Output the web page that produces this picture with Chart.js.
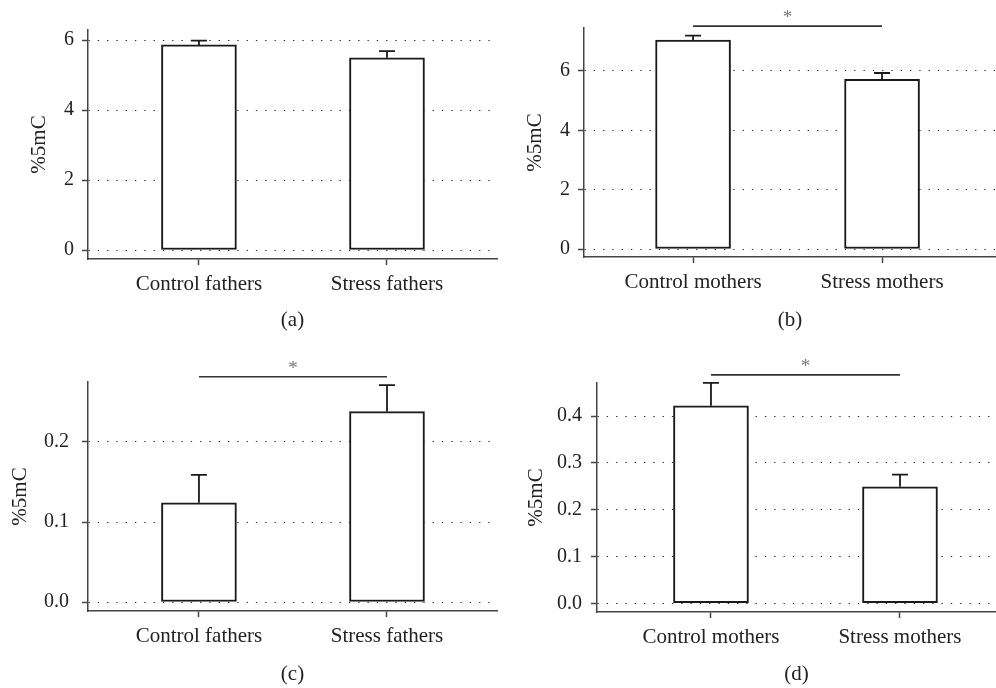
<!DOCTYPE html>
<html>
<head>
<meta charset="utf-8">
<script src="https://cdn.jsdelivr.net/npm/chart.js@4.4.1/dist/chart.umd.min.js"></script>
<style>
  html, body { margin: 0; padding: 0; background: #fff; }
  #wrap { position: relative; width: 996px; height: 688px; }
  .panel { position: absolute; width: 498px; height: 344px; }
</style>
</head>
<body>
<div id="wrap">
  <div class="panel" style="left:0;top:0"><canvas id="chartA"></canvas></div>
  <div class="panel" style="left:498px;top:0"><canvas id="chartB"></canvas></div>
  <div class="panel" style="left:0;top:344px"><canvas id="chartC"></canvas></div>
  <div class="panel" style="left:498px;top:344px"><canvas id="chartD"></canvas></div>
</div>
<script>
// categories
const fatherLabels = ["Control fathers", "Stress fathers"];
const motherLabels = ["Control mothers", "Stress mothers"];

// (a)
const aMeans = [5.86, 5.49];
const aErrors = [0.12, 0.19];
const aTicks = [0, 2, 4, 6];

// (b)
const bMeans = [7.04, 5.72];
const bErrors = [0.15, 0.21];
const bTicks = [0, 2, 4, 6];
const bSig = 7.51;

// (c)
const cMeans = [0.124, 0.238];
const cErrors = [0.035, 0.033];
const cTicks = [0.0, 0.1, 0.2];
const cSig = 0.2816;

// (d)
const dMeans = [0.422, 0.249];
const dErrors = [0.049, 0.026];
const dTicks = [0.0, 0.1, 0.2, 0.3, 0.4];
const dSig = 0.488;

Chart.defaults.font.family = "'Liberation Serif', 'Times New Roman', serif";
Chart.defaults.color = "#222";

// error bars + significance bracket, placed with the chart's scales
const errorBarPlugin = {
  id: "errorBars",
  afterDraw(chart, args, opts) {
    const ctx = chart.ctx;
    const xs = chart.scales.x;
    const ys = chart.scales.y;
    const means = chart.data.datasets[0].data.map((d) => d.y);
    ctx.save();
    ctx.strokeStyle = "#1a1a1a";
    ctx.lineWidth = 1.8;
    opts.errors.forEach((e, i) => {
      const px = xs.getPixelForValue(i);
      const top = ys.getPixelForValue(means[i] + e);
      const base = ys.getPixelForValue(means[i]);
      ctx.beginPath();
      ctx.moveTo(px, base);
      ctx.lineTo(px, top);
      ctx.moveTo(px - 8, top);
      ctx.lineTo(px + 8, top);
      ctx.stroke();
    });
    if (opts.sig != null) {
      const sy = ys.getPixelForValue(opts.sig);
      const x0 = xs.getPixelForValue(0);
      const x1 = xs.getPixelForValue(1);
      ctx.strokeStyle = "#333";
      ctx.lineWidth = 1.6;
      ctx.beginPath();
      ctx.moveTo(x0, sy);
      ctx.lineTo(x1, sy);
      ctx.stroke();
      ctx.fillStyle = "#777";
      ctx.font = "19px 'Liberation Serif'";
      ctx.textAlign = "center";
      ctx.textBaseline = "alphabetic";
      ctx.fillText("*", (x0 + x1) / 2, sy - 3);
    }
    ctx.restore();
  },
};

function makePanel(id, p) {
  return new Chart(document.getElementById(id).getContext("2d"), {
    type: "bar",
    data: {
      datasets: [
        {
          data: p.means.map((v, i) => ({ x: i, y: v })),
          backgroundColor: "#fff",
          borderColor: "#1a1a1a",
          borderWidth: 2,
          borderSkipped: false,
          barThickness: 75,
        },
      ],
    },
    options: {
      responsive: true,
      maintainAspectRatio: false,
      animation: false,
      layout: { padding: { left: 0, top: p.padTop, right: p.padRight, bottom: 0 } },
      plugins: {
        legend: { display: false },
        tooltip: { enabled: false },
        errorBars: { errors: p.errors, sig: p.sig },
      },
      scales: {
        x: {
          type: "linear",
          offset: false,
          min: p.xMin,
          max: p.xMax,
          afterBuildTicks: (s) => { s.ticks = p.labels.map((_, i) => ({ value: i })); },
          afterFit: (s) => { s.height = p.xHeight; },
          ticks: {
            callback: (v) => p.labels[v],
            padding: 7,
            font: { size: 21 },
            color: "#222",
            maxRotation: 0,
            autoSkip: false,
          },
          grid: { offset: false, drawOnChartArea: false, tickLength: 6, tickColor: "#444", tickWidth: 1.5 },
          border: { color: "#444", width: 1.5 },
          title: {
            display: true,
            text: p.letter,
            font: { size: 21 },
            color: "#222",
            padding: { top: 0, bottom: p.letterPad },
          },
        },
        y: {
          type: "linear",
          min: p.yMin,
          max: p.yMax,
          afterBuildTicks: (s) => { s.ticks = p.ticks.map((v) => ({ value: v })); },
          afterFit: (s) => { s.width = p.yWidth; },
          ticks: {
            padding: p.yPad,
            font: { size: 20 },
            color: "#222",
            callback: (v) => v.toFixed(p.dec),
          },
          grid: {
            color: "#222",
            lineWidth: 1,
            tickLength: 6,
            tickColor: "#444",
            tickWidth: 1.5,
            tickBorderDash: [],
          },
          border: { color: "#444", width: 1.5, dash: [1.3, 8] },
          title: {
            display: true,
            text: "%5mC",
            font: { size: 21 },
            color: "#222",
            padding: { top: p.titlePad, bottom: 0 },
          },
        },
      },
    },
    plugins: [errorBarPlugin],
  });
}

makePanel("chartA", {
  labels: fatherLabels, means: aMeans, errors: aErrors, ticks: aTicks, sig: null,
  dec: 0, yMin: -0.257, yMax: 6.286, xMin: -0.59, xMax: 1.585,
  padTop: 30, padRight: 1, xHeight: 85, yWidth: 88, yPad: 8, titlePad: 27, letter: "(a)", letterPad: 11,
});
makePanel("chartB", {
  labels: motherLabels, means: bMeans, errors: bErrors, ticks: bTicks, sig: bSig,
  dec: 0, yMin: -0.269, yMax: 7.446, xMin: -0.577, xMax: 1.603,
  padTop: 28, padRight: 0, xHeight: 87, yWidth: 86, yPad: 8, titlePad: 25, letter: "(b)", letterPad: 11,
});
makePanel("chartC", {
  labels: fatherLabels, means: cMeans, errors: cErrors, ticks: cTicks, sig: cSig,
  dec: 1, yMin: -0.01125, yMax: 0.275, xMin: -0.59, xMax: 1.585,
  padTop: 38, padRight: 1, xHeight: 77, yWidth: 88, yPad: 13, titlePad: 8, letter: "(c)", letterPad: 1,
});
makePanel("chartD", {
  labels: motherLabels, means: dMeans, errors: dErrors, ticks: dTicks, sig: dSig,
  dec: 1, yMin: -0.0186, yMax: 0.4706, xMin: -0.603, xMax: 1.508,
  padTop: 39, padRight: 0, xHeight: 76, yWidth: 99, yPad: 9, titlePad: 26, letter: "(d)", letterPad: 1,
});
</script>
</body>
</html>
